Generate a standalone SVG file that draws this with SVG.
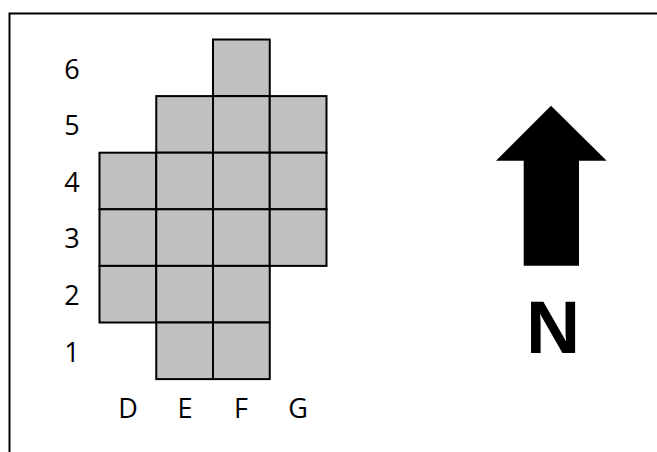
<svg xmlns="http://www.w3.org/2000/svg" width="657" height="452" viewBox="0 0 657 452">
<style>
.cell{fill:#c0c0c0;stroke:#000;stroke-width:2}
.lbl{font-family:"Open Sans","Liberation Sans",Arial,sans-serif;font-size:27px;fill:#000;text-anchor:middle}
</style>
<rect width="657" height="452" fill="#fff"/>
<path d="M9.5,452 V13.5 H657" fill="none" stroke="#000" stroke-width="2"/>
<g id="grid">
<rect class="cell" x="213" y="39.5" width="56.75" height="56.6"/>
<rect class="cell" x="156.25" y="96.1" width="56.75" height="56.6"/>
<rect class="cell" x="213" y="96.1" width="56.75" height="56.6"/>
<rect class="cell" x="269.75" y="96.1" width="56.75" height="56.6"/>
<rect class="cell" x="99.5" y="152.7" width="56.75" height="56.6"/>
<rect class="cell" x="156.25" y="152.7" width="56.75" height="56.6"/>
<rect class="cell" x="213" y="152.7" width="56.75" height="56.6"/>
<rect class="cell" x="269.75" y="152.7" width="56.75" height="56.6"/>
<rect class="cell" x="99.5" y="209.3" width="56.75" height="56.6"/>
<rect class="cell" x="156.25" y="209.3" width="56.75" height="56.6"/>
<rect class="cell" x="213" y="209.3" width="56.75" height="56.6"/>
<rect class="cell" x="269.75" y="209.3" width="56.75" height="56.6"/>
<rect class="cell" x="99.5" y="265.9" width="56.75" height="56.6"/>
<rect class="cell" x="156.25" y="265.9" width="56.75" height="56.6"/>
<rect class="cell" x="213" y="265.9" width="56.75" height="56.6"/>
<rect class="cell" x="156.25" y="322.5" width="56.75" height="56.6"/>
<rect class="cell" x="213" y="322.5" width="56.75" height="56.6"/>
</g>
<g id="row-labels">
<text class="lbl" x="72" y="79">6</text>
<text class="lbl" x="72" y="135">5</text>
<text class="lbl" x="72" y="192">4</text>
<text class="lbl" x="72" y="248">3</text>
<text class="lbl" x="72" y="305">2</text>
<text class="lbl" x="72" y="362">1</text>
</g>
<g id="col-labels">
<text class="lbl" x="128" y="418">D</text>
<text class="lbl" x="185" y="418">E</text>
<text class="lbl" x="241" y="418">F</text>
<text class="lbl" x="298" y="418">G</text>
</g>
<g id="north-arrow">
<polygon points="551,105.7 606.7,160.7 579,160.7 579,265.7 523.7,265.7 523.7,160.7 496,160.7" fill="#000"/>
</g>
<g id="north-label">
<text x="553" y="352.7" font-family="'Liberation Sans',Arial,sans-serif" font-weight="bold" font-size="75" text-anchor="middle" fill="#000">N</text>
</g>
</svg>
